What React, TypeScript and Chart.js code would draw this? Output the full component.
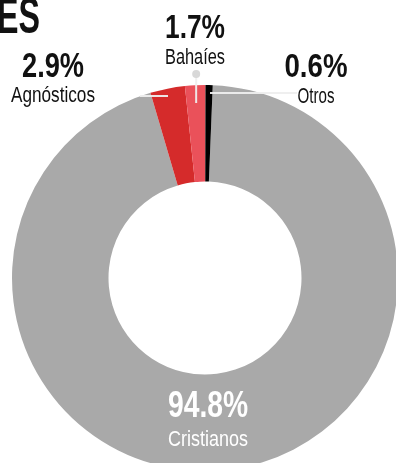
import React, { useEffect, useRef } from "react";
import { Chart, registerables } from "chart.js";

Chart.register(...registerables);

// ---- data ----
const categories = ["Cristianos", "Agnósticos", "Bahaíes", "Otros"];
const percentages = [94.8, 2.9, 1.7, 0.6];
const percentLabels = ["94.8%", "2.9%", "1.7%", "0.6%"];
const sliceColors = ["#a9a9a9", "#d52b2b", "#ea515a", "#000000"];
const titleFragment = "ES";

// ---- layout for annotations (positions/sizes, not data) ----
const FONT = "'Liberation Sans Narrow', 'Liberation Sans', Arial, sans-serif";
type LabelLayout = {
  cx: number;
  valueBase: number;
  nameBase: number;
  valueSize: number;
  nameSize: number;
  valueW: number;
  nameW: number;
  color: string;
};
const labelLayout: LabelLayout[] = [
  { cx: 208, valueBase: 417, nameBase: 446, valueSize: 36, nameSize: 22, valueW: 80, nameW: 80, color: "#ffffff" },
  { cx: 53, valueBase: 77, nameBase: 102, valueSize: 35, nameSize: 22, valueW: 62, nameW: 84, color: "#111111" },
  { cx: 195, valueBase: 38, nameBase: 64, valueSize: 33, nameSize: 22, valueW: 60, nameW: 60, color: "#111111" },
  { cx: 316, valueBase: 77, nameBase: 103, valueSize: 33, nameSize: 22, valueW: 63, nameW: 37, color: "#111111" },
];

function drawFitText(
  ctx: CanvasRenderingContext2D,
  text: string,
  x: number,
  y: number,
  font: string,
  width: number,
  color: string,
  align: CanvasTextAlign = "center"
) {
  ctx.save();
  ctx.font = font;
  const m = ctx.measureText(text).width || 1;
  const s = width / m;
  ctx.translate(x, y);
  ctx.scale(s, 1);
  ctx.textAlign = align;
  ctx.textBaseline = "alphabetic";
  ctx.fillStyle = color;
  ctx.fillText(text, 0, 0);
  ctx.restore();
}

const annotationPlugin = {
  id: "annotations",
  afterDatasetsDraw(chart: any) {
    const ctx: CanvasRenderingContext2D = chart.ctx;
    const arcs = chart.getDatasetMeta(0).data as any[];
    const { x: cx, y: cy, outerRadius } = arcs[0];
    const top = cy - outerRadius;

    ctx.save();
    ctx.strokeStyle = "rgba(238,238,238,0.95)";
    ctx.lineWidth = 2;
    // Agnósticos leader
    ctx.beginPath();
    ctx.moveTo(140, top + 11);
    ctx.lineTo(168, top + 11);
    ctx.stroke();
    // Bahaíes leader (vertical, through middle of slice)
    const b = arcs[2];
    const mid = (b.startAngle + b.endAngle) / 2;
    const bx = cx + Math.cos(mid) * outerRadius + 1;
    ctx.beginPath();
    ctx.moveTo(bx, top - 11);
    ctx.lineTo(bx, top + 18);
    ctx.stroke();
    ctx.fillStyle = "#d8d8d8";
    ctx.beginPath();
    ctx.arc(bx, top - 11, 4, 0, Math.PI * 2);
    ctx.fill();
    // Otros leader
    ctx.beginPath();
    ctx.moveTo(cx + 5, top + 8);
    ctx.lineTo(297, top + 8);
    ctx.stroke();
    ctx.restore();

    // labels
    labelLayout.forEach((l, i) => {
      drawFitText(ctx, percentLabels[i], l.cx, l.valueBase, `bold ${l.valueSize}px ${FONT}`, l.valueW, l.color);
      drawFitText(ctx, categories[i], l.cx, l.nameBase, `${l.nameSize}px ${FONT}`, l.nameW, l.color);
    });

    // cut-off title fragment
    drawFitText(ctx, titleFragment, 40, 33, `bold 50px ${FONT}`, 43, "#111111", "right");
  },
};

export default function App() {
  const ref = useRef<HTMLCanvasElement | null>(null);

  useEffect(() => {
    if (!ref.current) return;
    const chart = new Chart(ref.current, {
      type: "doughnut",
      data: {
        labels: categories,
        datasets: [
          {
            data: percentages,
            backgroundColor: sliceColors,
            borderWidth: 0,
          },
        ],
      },
      options: {
        responsive: false,
        animation: false,
        rotation: 2.3,
        cutout: "50%",
        layout: { padding: { left: 12, right: 12, top: 85, bottom: 9 } },
        plugins: {
          legend: { display: false },
          tooltip: { enabled: false },
        },
      },
      plugins: [annotationPlugin],
    });
    return () => chart.destroy();
  }, []);

  return (
    <div
      style={{
        position: "fixed",
        left: 0,
        top: 0,
        width: 396,
        height: 463,
        overflow: "hidden",
        background: "#ffffff",
      }}
    >
      <canvas ref={ref} width={410} height={480} style={{ display: "block" }} />
    </div>
  );
}
